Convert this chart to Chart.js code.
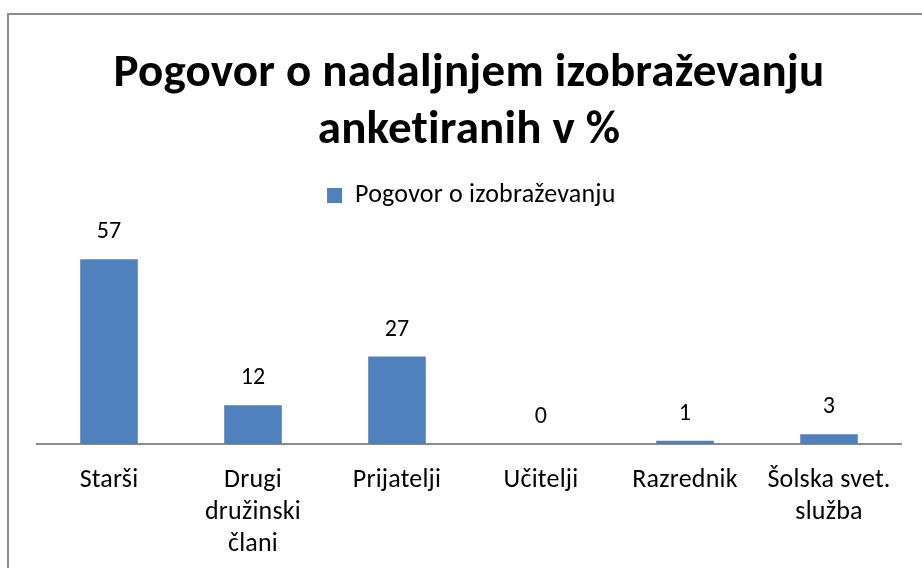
<!DOCTYPE html>
<html>
<head>
<meta charset="utf-8">
<script src="https://cdn.jsdelivr.net/npm/chart.js@4/dist/chart.umd.min.js"></script>
<style>
  html, body { margin: 0; padding: 0; background: #fff; }
  #wrap { position: relative; width: 922px; height: 568px; overflow: hidden; }
  #frame { position: absolute; left: 7px; top: 13px; width: 940px; height: 600px;
           border-left: 2px solid #8c8c8c; border-top: 2px solid #8c8c8c; box-sizing: border-box; }
  #chart { position: absolute; left: 0; top: 0; }
</style>
</head>
<body>
<div id="wrap">
  <div id="frame"></div>
  <canvas id="chart" width="922" height="568"></canvas>
</div>
<script>
var categories = ['Starši', ['Drugi', 'družinski', 'člani'], 'Prijatelji', 'Učitelji', 'Razrednik', ['Šolska svet.', 'služba']];
var values = [57, 12, 27, 0, 1, 3];
var seriesName = 'Pogovor o izobraževanju';
var titleLines = ['Pogovor o nadaljnjem izobraževanju', 'anketiranih v %'];

var fontFamily = 'Carlito, Lato, "Open Sans", sans-serif';

// no ligatures, and a bit of room under the legend
var setup = {
    id: 'setup',
    beforeInit: function (chart) {
        var fit = chart.legend.fit;
        chart.legend.fit = function () {
            fit.call(this);
            this.height += 31;
        };
    },
    beforeDraw: function (chart) {
        chart.ctx.letterSpacing = '0.2px';
    }
};

// value labels above bars
var valueLabels = {
    id: 'valueLabels',
    afterDatasetsDraw: function (chart) {
        var ctx = chart.ctx;
        var meta = chart.getDatasetMeta(0);
        ctx.save();
        ctx.font = '24px ' + fontFamily;
        ctx.fillStyle = '#000';
        ctx.textAlign = 'center';
        ctx.textBaseline = 'middle';
        meta.data.forEach(function (bar, i) {
            ctx.fillText(values[i], bar.x, bar.y - 27);
        });
        ctx.restore();
    }
};

var ctx = document.getElementById('chart').getContext('2d');
var myChart = new Chart(ctx, {
    type: 'bar',
    data: {
        labels: categories,
        datasets: [{
            label: seriesName,
            data: values,
            backgroundColor: '#4F81BD',
            borderWidth: 0,
            categoryPercentage: 1,
            barPercentage: 0.4
        }]
    },
    options: {
        responsive: false,
        animation: false,
        layout: { padding: { left: 37, right: 21, top: 0, bottom: 0 } },
        plugins: {
            title: {
                display: true,
                text: titleLines,
                color: '#000',
                font: { family: fontFamily, size: 47, weight: 'bold', lineHeight: 1.23 },
                padding: { top: 45, bottom: 14 }
            },
            legend: {
                display: true,
                labels: {
                    color: '#000',
                    font: { family: fontFamily, size: 26 },
                    boxWidth: 15,
                    boxHeight: 15,
                    padding: 8
                }
            },
            tooltip: { enabled: false }
        },
        scales: {
            x: {
                grid: { display: false },
                border: { display: true, color: '#8c8c8c', width: 2 },
                ticks: {
                    color: '#000',
                    font: { family: fontFamily, size: 26, lineHeight: 1.23 },
                    padding: 12,
                    maxRotation: 0,
                    autoSkip: false
                },
                afterFit: function (scale) {
                    scale.height -= 4;
                }
            },
            y: {
                display: false,
                min: 0,
                max: 60
            }
        }
    },
    plugins: [setup, valueLabels]
});
</script>
</body>
</html>
